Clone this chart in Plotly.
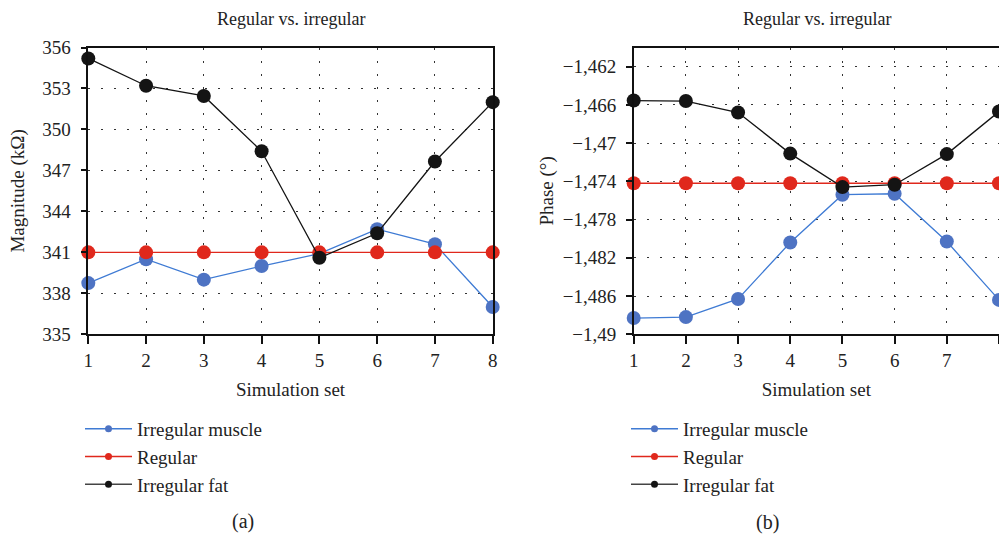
import plotly.graph_objects as go

sim_set = [1, 2, 3, 4, 5, 6, 7, 8]

mag_irregular_muscle = [338.75, 340.5, 339.0, 340.0, 340.9, 342.7, 341.6, 337.0]
mag_regular = [341.0, 341.0, 341.0, 341.0, 341.0, 341.0, 341.0, 341.0]
mag_irregular_fat = [355.2, 353.2, 352.45, 348.4, 340.6, 342.4, 347.65, 352.0]

phase_irregular_muscle = [-1488.3, -1488.2, -1486.3, -1480.4, -1475.4, -1475.3, -1480.3, -1486.4]
phase_regular = [-1474.2] * 8
phase_irregular_fat = [-1465.55, -1465.6, -1466.8, -1471.1, -1474.6, -1474.35, -1471.15, -1466.7]

mag_ticks = [335, 338, 341, 344, 347, 350, 353, 356]
phase_ticks = [-1462, -1466, -1470, -1474, -1478, -1482, -1486, -1490]
phase_ticktext = ["\u22121,462", "\u22121,466", "\u22121,47", "\u22121,474",
                  "\u22121,478", "\u22121,482", "\u22121,486", "\u22121,49"]

series_names = ["Irregular muscle", "Regular", "Irregular fat"]
marker_colors = ["#4e73c3", "#e0281c", "#141414"]
line_colors = ["#3f7bd4", "#e0281c", "#141414"]

FONT = "Liberation Serif"

fig = go.Figure()

mag_series = [mag_irregular_muscle, mag_regular, mag_irregular_fat]
phase_series = [phase_irregular_muscle, phase_regular, phase_irregular_fat]

for i, name in enumerate(series_names):
    fig.add_trace(go.Scatter(
        x=sim_set, y=mag_series[i], mode="lines+markers", name=name,
        line=dict(color=line_colors[i], width=1.3),
        marker=dict(color=marker_colors[i], size=14),
        cliponaxis=False, showlegend=False, xaxis="x", yaxis="y"))
for i, name in enumerate(series_names):
    fig.add_trace(go.Scatter(
        x=sim_set, y=phase_series[i], mode="lines+markers", name=name,
        line=dict(color=line_colors[i], width=1.3),
        marker=dict(color=marker_colors[i], size=14),
        cliponaxis=False, showlegend=False, xaxis="x2", yaxis="y2"))

# legend entries (small markers, as in the reference)
for lg, ax in (("legend", ("x", "y")), ("legend2", ("x2", "y2"))):
    for i, name in enumerate(series_names):
        fig.add_trace(go.Scatter(
            x=[None], y=[None], mode="lines+markers", name=name,
            line=dict(color=line_colors[i] if i != 2 else "#444444", width=1.5),
            marker=dict(color=marker_colors[i], size=7),
            legend=lg, xaxis=ax[0], yaxis=ax[1]))

W, H = 999, 534
def px_x(p):
    return p / W
def px_y(p):
    return 1 - p / H

ydom = [px_y(334.3), px_y(47.5)]

axis_common = dict(
    showline=True, linecolor="#111111", linewidth=1.5,
    ticks="outside", tickcolor="#111111", tickwidth=1.5,
    showgrid=True, gridcolor="#333333", gridwidth=1, griddash="2px,11px",
    zeroline=False, automargin=False,
    tickfont=dict(family=FONT, size=19, color="#222222"),
)

fig.update_layout(
    width=W, height=H,
    margin=dict(l=0, r=0, t=0, b=0, autoexpand=False),
    paper_bgcolor="white", plot_bgcolor="white",
    font=dict(family=FONT, color="#222222"),
    hovermode=False,
    xaxis=dict(domain=[px_x(88.3), px_x(492.7)], range=[1, 8], tickvals=sim_set,
               ticklen=8, mirror=True, anchor="y",
               title=dict(text="Simulation set", font=dict(family=FONT, size=19), standoff=13),
               **axis_common),
    yaxis=dict(domain=ydom, range=[335, 356], tickvals=mag_ticks,
               ticklen=6, mirror=True, anchor="x", ticklabelstandoff=6,
               title=dict(text="Magnitude (k\u03a9)", font=dict(family=FONT, size=19), standoff=13),
               **axis_common),
    xaxis2=dict(domain=[px_x(633.7), 1.0], range=[1, 8], tickvals=sim_set,
                ticklen=8, mirror=True, anchor="y2",
                title=dict(text="Simulation set", font=dict(family=FONT, size=19), standoff=13),
                **axis_common),
    yaxis2=dict(domain=ydom, range=[-1490, -1460], tickvals=phase_ticks,
                ticktext=phase_ticktext,
                ticklen=6, mirror=False, anchor="x2", ticklabelstandoff=6,
                title=dict(text="Phase (\u00b0)", font=dict(family=FONT, size=19), standoff=4),
                **axis_common),
    legend=dict(x=px_x(80), y=px_y(410), xanchor="left", yanchor="top",
                font=dict(family=FONT, size=19, color="#222222"),
                bgcolor="rgba(0,0,0,0)", itemwidth=47, tracegroupgap=0),
    legend2=dict(x=px_x(626), y=px_y(410), xanchor="left", yanchor="top",
                 font=dict(family=FONT, size=19, color="#222222"),
                 bgcolor="rgba(0,0,0,0)", itemwidth=47, tracegroupgap=0),
    annotations=[
        dict(text="Regular vs. irregular", x=(88.3 + 492.7) / 2 / W, y=px_y(19),
             xref="paper", yref="paper", xanchor="center", yanchor="middle", showarrow=False,
             font=dict(family=FONT, size=18, color="#222222")),
        dict(text="Regular vs. irregular", x=(633.7 + 1000.5) / 2 / W, y=px_y(19),
             xref="paper", yref="paper", xanchor="center", yanchor="middle", showarrow=False,
             font=dict(family=FONT, size=18, color="#222222")),
        dict(text="(a)", x=px_x(243), y=px_y(521), xref="paper", yref="paper",
             xanchor="center", yanchor="middle",
             showarrow=False, font=dict(family=FONT, size=20, color="#222222")),
        dict(text="(b)", x=px_x(767), y=px_y(522), xref="paper", yref="paper",
             xanchor="center", yanchor="middle",
             showarrow=False, font=dict(family=FONT, size=20, color="#222222")),
    ],
)

fig.write_html("out.html", config={"displayModeBar": False, "staticPlot": False},
               post_script="document.body.style.margin='0px';document.body.style.overflow='hidden';")
